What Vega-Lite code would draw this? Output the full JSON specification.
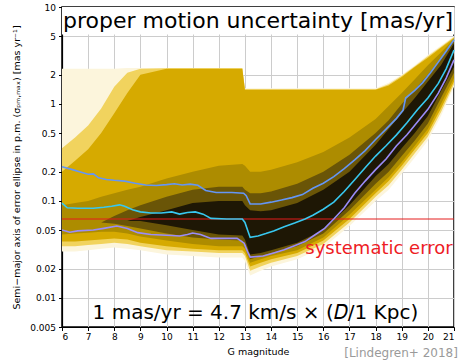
{
  "$schema": "https://vega.github.io/schema/vega-lite/v6.json",
  "width": 392,
  "height": 320,
  "autosize": {"type": "none"},
  "padding": {"left": 62, "top": 7, "right": 5, "bottom": 37},
  "config": {
    "font": "DejaVu Sans",
    "view": {"stroke": "#000000", "strokeWidth": 1.5},
    "axis": {
      "domainColor": "#000000",
      "domainWidth": 1.2,
      "tickColor": "#000000",
      "tickSize": 3.5,
      "labelColor": "#000000",
      "titleColor": "#000000",
      "labelFontSize": 9,
      "titleFontSize": 9.5,
      "titleFontWeight": "normal",
      "labelOverlap": false,
      "gridColor": "#cccccc",
      "gridWidth": 1,
      "gridOpacity": 1
    }
  },
  "datasets": {
    "density": [
      {"g": 6.0, "a0": 0.030, "b0": 2.3, "a1": 0.034, "b1": 0.35, "a2": 0.038, "b2": 0.20, "a3": 0.045, "b3": 0.090, "a4": 0.060, "b4": 0.060, "a5": 0.060, "b5": 0.060},
      {"g": 6.5, "a0": 0.030, "b0": 2.3, "a1": 0.034, "b1": 0.45, "a2": 0.038, "b2": 0.26, "a3": 0.046, "b3": 0.095, "a4": 0.060, "b4": 0.060, "a5": 0.060, "b5": 0.060},
      {"g": 7.0, "a0": 0.031, "b0": 2.3, "a1": 0.035, "b1": 0.60, "a2": 0.039, "b2": 0.34, "a3": 0.047, "b3": 0.10, "a4": 0.060, "b4": 0.060, "a5": 0.060, "b5": 0.060},
      {"g": 7.5, "a0": 0.032, "b0": 2.3, "a1": 0.036, "b1": 0.90, "a2": 0.040, "b2": 0.50, "a3": 0.048, "b3": 0.11, "a4": 0.060, "b4": 0.060, "a5": 0.060, "b5": 0.060},
      {"g": 8.0, "a0": 0.033, "b0": 2.3, "a1": 0.037, "b1": 1.50, "a2": 0.041, "b2": 0.80, "a3": 0.048, "b3": 0.12, "a4": 0.058, "b4": 0.070, "a5": 0.062, "b5": 0.062},
      {"g": 8.5, "a0": 0.032, "b0": 2.35, "a1": 0.036, "b1": 2.10, "a2": 0.040, "b2": 1.30, "a3": 0.046, "b3": 0.13, "a4": 0.055, "b4": 0.080, "a5": 0.062, "b5": 0.062},
      {"g": 9.0, "a0": 0.031, "b0": 2.35, "a1": 0.034, "b1": 2.30, "a2": 0.037, "b2": 2.00, "a3": 0.043, "b3": 0.14, "a4": 0.052, "b4": 0.090, "a5": 0.062, "b5": 0.068},
      {"g": 10.0, "a0": 0.028, "b0": 2.35, "a1": 0.031, "b1": 2.33, "a2": 0.034, "b2": 2.30, "a3": 0.039, "b3": 0.17, "a4": 0.046, "b4": 0.11, "a5": 0.056, "b5": 0.080},
      {"g": 11.0, "a0": 0.027, "b0": 2.35, "a1": 0.030, "b1": 2.33, "a2": 0.032, "b2": 2.30, "a3": 0.036, "b3": 0.20, "a4": 0.042, "b4": 0.13, "a5": 0.050, "b5": 0.095},
      {"g": 12.0, "a0": 0.026, "b0": 2.35, "a1": 0.029, "b1": 2.33, "a2": 0.031, "b2": 2.30, "a3": 0.034, "b3": 0.23, "a4": 0.040, "b4": 0.14, "a5": 0.045, "b5": 0.10},
      {"g": 12.9, "a0": 0.026, "b0": 2.35, "a1": 0.029, "b1": 2.33, "a2": 0.031, "b2": 2.30, "a3": 0.034, "b3": 0.24, "a4": 0.039, "b4": 0.14, "a5": 0.044, "b5": 0.10},
      {"g": 13.0, "a0": 0.024, "b0": 1.45, "a1": 0.027, "b1": 1.42, "a2": 0.029, "b2": 1.40, "a3": 0.032, "b3": 0.23, "a4": 0.035, "b4": 0.13, "a5": 0.040, "b5": 0.090},
      {"g": 13.2, "a0": 0.017, "b0": 1.45, "a1": 0.019, "b1": 1.42, "a2": 0.021, "b2": 1.40, "a3": 0.023, "b3": 0.20, "a4": 0.025, "b4": 0.12, "a5": 0.028, "b5": 0.080},
      {"g": 13.6, "a0": 0.019, "b0": 1.45, "a1": 0.021, "b1": 1.42, "a2": 0.023, "b2": 1.40, "a3": 0.025, "b3": 0.20, "a4": 0.027, "b4": 0.12, "a5": 0.029, "b5": 0.078},
      {"g": 14.0, "a0": 0.021, "b0": 1.45, "a1": 0.023, "b1": 1.42, "a2": 0.025, "b2": 1.40, "a3": 0.027, "b3": 0.21, "a4": 0.029, "b4": 0.125, "a5": 0.031, "b5": 0.080},
      {"g": 15.0, "a0": 0.025, "b0": 1.45, "a1": 0.027, "b1": 1.42, "a2": 0.029, "b2": 1.40, "a3": 0.031, "b3": 0.25, "a4": 0.034, "b4": 0.15, "a5": 0.037, "b5": 0.095},
      {"g": 16.0, "a0": 0.033, "b0": 1.45, "a1": 0.036, "b1": 1.42, "a2": 0.039, "b2": 1.40, "a3": 0.042, "b3": 0.32, "a4": 0.046, "b4": 0.20, "a5": 0.050, "b5": 0.13},
      {"g": 17.0, "a0": 0.055, "b0": 1.45, "a1": 0.060, "b1": 1.42, "a2": 0.065, "b2": 1.40, "a3": 0.072, "b3": 0.45, "a4": 0.080, "b4": 0.30, "a5": 0.090, "b5": 0.20},
      {"g": 18.0, "a0": 0.10, "b0": 1.45, "a1": 0.11, "b1": 1.42, "a2": 0.12, "b2": 1.40, "a3": 0.13, "b3": 0.70, "a4": 0.15, "b4": 0.50, "a5": 0.18, "b5": 0.38},
      {"g": 18.5, "a0": 0.13, "b0": 1.65, "a1": 0.145, "b1": 1.60, "a2": 0.16, "b2": 1.55, "a3": 0.175, "b3": 0.95, "a4": 0.20, "b4": 0.68, "a5": 0.24, "b5": 0.55},
      {"g": 19.0, "a0": 0.19, "b0": 2.0, "a1": 0.21, "b1": 1.95, "a2": 0.23, "b2": 1.90, "a3": 0.25, "b3": 1.30, "a4": 0.29, "b4": 1.00, "a5": 0.35, "b5": 0.80},
      {"g": 19.5, "a0": 0.28, "b0": 2.5, "a1": 0.31, "b1": 2.45, "a2": 0.34, "b2": 2.40, "a3": 0.37, "b3": 1.80, "a4": 0.42, "b4": 1.40, "a5": 0.50, "b5": 1.15},
      {"g": 20.0, "a0": 0.42, "b0": 3.2, "a1": 0.46, "b1": 3.1, "a2": 0.50, "b2": 3.0, "a3": 0.55, "b3": 2.5, "a4": 0.63, "b4": 2.0, "a5": 0.75, "b5": 1.7},
      {"g": 20.5, "a0": 0.75, "b0": 4.0, "a1": 0.82, "b1": 3.9, "a2": 0.90, "b2": 3.8, "a3": 1.0, "b3": 3.4, "a4": 1.15, "b4": 2.9, "a5": 1.35, "b5": 2.5},
      {"g": 21.0, "a0": 1.5, "b0": 5.0, "a1": 1.6, "b1": 4.9, "a2": 1.7, "b2": 4.8, "a3": 1.85, "b3": 4.7, "a4": 2.1, "b4": 4.5, "a5": 2.4, "b5": 4.2}
    ],
    "curves": [
      {"p": "hi", "g": 6.0, "s": 0.225}, {"p": "hi", "g": 6.4, "s": 0.21}, {"p": "hi", "g": 6.8, "s": 0.195},
      {"p": "hi", "g": 7.0, "s": 0.188}, {"p": "hi", "g": 7.2, "s": 0.19}, {"p": "hi", "g": 7.4, "s": 0.173},
      {"p": "hi", "g": 7.7, "s": 0.166}, {"p": "hi", "g": 8.0, "s": 0.163}, {"p": "hi", "g": 8.4, "s": 0.16},
      {"p": "hi", "g": 8.8, "s": 0.152}, {"p": "hi", "g": 9.2, "s": 0.146}, {"p": "hi", "g": 9.6, "s": 0.144},
      {"p": "hi", "g": 10.0, "s": 0.147}, {"p": "hi", "g": 10.3, "s": 0.15}, {"p": "hi", "g": 10.6, "s": 0.146},
      {"p": "hi", "g": 10.9, "s": 0.149}, {"p": "hi", "g": 11.2, "s": 0.145}, {"p": "hi", "g": 11.5, "s": 0.128},
      {"p": "hi", "g": 11.9, "s": 0.122}, {"p": "hi", "g": 12.5, "s": 0.122}, {"p": "hi", "g": 12.95, "s": 0.12},
      {"p": "hi", "g": 13.05, "s": 0.113}, {"p": "hi", "g": 13.2, "s": 0.093}, {"p": "hi", "g": 13.6, "s": 0.093},
      {"p": "hi", "g": 14.0, "s": 0.097}, {"p": "hi", "g": 14.4, "s": 0.102}, {"p": "hi", "g": 14.8, "s": 0.108},
      {"p": "hi", "g": 15.2, "s": 0.116}, {"p": "hi", "g": 15.6, "s": 0.135}, {"p": "hi", "g": 16.0, "s": 0.152},
      {"p": "hi", "g": 16.4, "s": 0.178}, {"p": "hi", "g": 16.8, "s": 0.215}, {"p": "hi", "g": 17.2, "s": 0.265},
      {"p": "hi", "g": 17.6, "s": 0.33}, {"p": "hi", "g": 18.0, "s": 0.43}, {"p": "hi", "g": 18.4, "s": 0.55},
      {"p": "hi", "g": 18.8, "s": 0.71}, {"p": "hi", "g": 19.05, "s": 0.86}, {"p": "hi", "g": 19.15, "s": 1.15},
      {"p": "hi", "g": 19.5, "s": 1.38}, {"p": "hi", "g": 19.8, "s": 1.66}, {"p": "hi", "g": 20.1, "s": 2.1},
      {"p": "hi", "g": 20.4, "s": 2.7}, {"p": "hi", "g": 20.7, "s": 3.5}, {"p": "hi", "g": 21.0, "s": 4.6},

      {"p": "med", "g": 6.0, "s": 0.095}, {"p": "med", "g": 6.2, "s": 0.085}, {"p": "med", "g": 6.6, "s": 0.084},
      {"p": "med", "g": 7.2, "s": 0.084}, {"p": "med", "g": 7.6, "s": 0.086}, {"p": "med", "g": 7.9, "s": 0.088},
      {"p": "med", "g": 8.2, "s": 0.091}, {"p": "med", "g": 8.4, "s": 0.088}, {"p": "med", "g": 8.7, "s": 0.081},
      {"p": "med", "g": 9.0, "s": 0.077}, {"p": "med", "g": 9.4, "s": 0.075}, {"p": "med", "g": 9.8, "s": 0.075},
      {"p": "med", "g": 10.2, "s": 0.077}, {"p": "med", "g": 10.5, "s": 0.073}, {"p": "med", "g": 10.8, "s": 0.076},
      {"p": "med", "g": 11.1, "s": 0.077}, {"p": "med", "g": 11.4, "s": 0.073}, {"p": "med", "g": 11.7, "s": 0.066},
      {"p": "med", "g": 12.3, "s": 0.065}, {"p": "med", "g": 12.9, "s": 0.065}, {"p": "med", "g": 13.0, "s": 0.06},
      {"p": "med", "g": 13.1, "s": 0.05}, {"p": "med", "g": 13.2, "s": 0.042}, {"p": "med", "g": 13.5, "s": 0.0435},
      {"p": "med", "g": 13.8, "s": 0.046}, {"p": "med", "g": 14.1, "s": 0.049}, {"p": "med", "g": 14.5, "s": 0.054},
      {"p": "med", "g": 14.9, "s": 0.059}, {"p": "med", "g": 15.3, "s": 0.065}, {"p": "med", "g": 15.6, "s": 0.071},
      {"p": "med", "g": 16.0, "s": 0.082}, {"p": "med", "g": 16.4, "s": 0.097}, {"p": "med", "g": 16.8, "s": 0.125},
      {"p": "med", "g": 17.2, "s": 0.165}, {"p": "med", "g": 17.6, "s": 0.22}, {"p": "med", "g": 18.0, "s": 0.29},
      {"p": "med", "g": 18.4, "s": 0.37}, {"p": "med", "g": 18.8, "s": 0.48}, {"p": "med", "g": 19.2, "s": 0.64},
      {"p": "med", "g": 19.6, "s": 0.87}, {"p": "med", "g": 20.0, "s": 1.15}, {"p": "med", "g": 20.4, "s": 1.63},
      {"p": "med", "g": 20.7, "s": 2.3}, {"p": "med", "g": 21.0, "s": 3.6},

      {"p": "lo", "g": 6.0, "s": 0.05}, {"p": "lo", "g": 6.3, "s": 0.0475}, {"p": "lo", "g": 6.6, "s": 0.049},
      {"p": "lo", "g": 7.2, "s": 0.05}, {"p": "lo", "g": 7.6, "s": 0.052}, {"p": "lo", "g": 8.1, "s": 0.055},
      {"p": "lo", "g": 8.5, "s": 0.052}, {"p": "lo", "g": 8.9, "s": 0.047}, {"p": "lo", "g": 9.4, "s": 0.045},
      {"p": "lo", "g": 10.2, "s": 0.044}, {"p": "lo", "g": 10.5, "s": 0.0435}, {"p": "lo", "g": 10.8, "s": 0.045},
      {"p": "lo", "g": 11.0, "s": 0.0466}, {"p": "lo", "g": 11.3, "s": 0.045}, {"p": "lo", "g": 11.7, "s": 0.041},
      {"p": "lo", "g": 12.7, "s": 0.041}, {"p": "lo", "g": 12.97, "s": 0.0366}, {"p": "lo", "g": 13.1, "s": 0.03},
      {"p": "lo", "g": 13.2, "s": 0.0263}, {"p": "lo", "g": 13.7, "s": 0.027}, {"p": "lo", "g": 14.1, "s": 0.029},
      {"p": "lo", "g": 14.5, "s": 0.0313}, {"p": "lo", "g": 14.9, "s": 0.0345}, {"p": "lo", "g": 15.3, "s": 0.038},
      {"p": "lo", "g": 15.7, "s": 0.045}, {"p": "lo", "g": 16.05, "s": 0.052}, {"p": "lo", "g": 16.4, "s": 0.065},
      {"p": "lo", "g": 16.8, "s": 0.085}, {"p": "lo", "g": 17.2, "s": 0.12}, {"p": "lo", "g": 17.6, "s": 0.16},
      {"p": "lo", "g": 18.0, "s": 0.21}, {"p": "lo", "g": 18.4, "s": 0.27}, {"p": "lo", "g": 18.8, "s": 0.37},
      {"p": "lo", "g": 19.2, "s": 0.48}, {"p": "lo", "g": 19.6, "s": 0.65}, {"p": "lo", "g": 20.0, "s": 0.88},
      {"p": "lo", "g": 20.4, "s": 1.29}, {"p": "lo", "g": 20.7, "s": 1.85}, {"p": "lo", "g": 21.0, "s": 2.85}
    ]
  },
  "encoding": {
    "x": {
      "field": "g", "type": "quantitative",
      "scale": {"domain": [6, 21], "nice": false, "zero": false},
      "axis": {
        "title": "G magnitude",
        "values": [6, 7, 8, 9, 10, 11, 12, 13, 14, 15, 16, 17, 18, 19, 20, 21],
        "grid": true,
        "labelOverlap": false,
        "labelPadding": 2,
        "titlePadding": 5
      }
    }
  },
  "layer": [
    {
      "data": {"name": "density"},
      "mark": {"type": "area", "color": "#fcf5dc"},
      "encoding": {
        "y": {
          "field": "a0", "type": "quantitative",
          "scale": {"type": "log", "domain": [0.005, 10], "nice": false},
          "axis": {
            "title": "Semi−major axis of error ellipse in p.m. (σₚₘ,ₘₐₓ) [mas yr⁻¹]",
            "values": [0.005, 0.01, 0.02, 0.05, 0.1, 0.2, 0.5, 1, 2, 5, 10],
            "format": "~g",
            "grid": true,
            "labelOverlap": false,
            "labelPadding": 3,
            "titlePadding": 8
          }
        },
        "y2": {"field": "b0"}
      }
    },
    {
      "data": {"name": "density"},
      "mark": {"type": "area", "color": "#f1d35e"},
      "encoding": {"y": {"field": "a1", "type": "quantitative"}, "y2": {"field": "b1"}}
    },
    {
      "data": {"name": "density"},
      "mark": {"type": "area", "color": "#d6aa00"},
      "encoding": {"y": {"field": "a2", "type": "quantitative"}, "y2": {"field": "b2"}}
    },
    {
      "data": {"name": "density"},
      "mark": {"type": "area", "color": "#ad8c00"},
      "encoding": {"y": {"field": "a3", "type": "quantitative"}, "y2": {"field": "b3"}}
    },
    {
      "data": {"name": "density"},
      "mark": {"type": "area", "color": "#6a5507"},
      "encoding": {"y": {"field": "a4", "type": "quantitative"}, "y2": {"field": "b4"}}
    },
    {
      "data": {"name": "density"},
      "mark": {"type": "area", "color": "#1e1705"},
      "encoding": {"y": {"field": "a5", "type": "quantitative"}, "y2": {"field": "b5"}}
    },
    {
      "data": {"values": [{"g": 6}, {"g": 21}]},
      "mark": {"type": "line", "color": "#e41c1c", "strokeWidth": 1},
      "encoding": {"y": {"datum": 0.065, "type": "quantitative"}}
    },
    {
      "data": {"name": "curves"},
      "mark": {"type": "line", "strokeWidth": 1.6},
      "encoding": {
        "y": {"field": "s", "type": "quantitative"},
        "color": {
          "field": "p", "type": "nominal",
          "scale": {"domain": ["hi", "med", "lo"], "range": ["#6596f5", "#38c8f0", "#9a8cf8"]},
          "legend": null
        }
      }
    },
    {
      "data": {"values": [{"g": 6}]},
      "mark": {"type": "rect", "color": "#ffffff"},
      "encoding": {
        "x2": {"datum": 21},
        "y": {"datum": 5.2, "type": "quantitative"},
        "y2": {"datum": 10}
      }
    },
    {
      "data": {"values": [{"g": 13.5}]},
      "mark": {"type": "text", "text": "proper motion uncertainty [mas/yr]", "fontSize": 22, "align": "center", "baseline": "alphabetic", "color": "#000000"},
      "encoding": {"y": {"datum": 6.07, "type": "quantitative"}}
    },
    {
      "data": {"values": [{"g": 20.95}]},
      "mark": {"type": "text", "text": "systematic error", "fontSize": 18, "align": "right", "baseline": "alphabetic", "color": "#ee1c25"},
      "encoding": {"y": {"datum": 0.0284, "type": "quantitative"}}
    },
    {
      "data": {"values": [{"g": 13.4}]},
      "mark": {"type": "text", "text": "1 mas/yr = 4.7 km/s × (𝐷/1 Kpc)", "fontSize": 20, "align": "center", "baseline": "alphabetic", "color": "#000000"},
      "encoding": {"y": {"datum": 0.00608, "type": "quantitative"}}
    },
    {
      "data": {"values": [{"g": 21.15}]},
      "mark": {"type": "text", "text": "[Lindegren+ 2018]", "fontSize": 12, "align": "right", "baseline": "middle", "color": "#9a9a9a"},
      "encoding": {"y": {"datum": 0.00271, "type": "quantitative"}}
    }
  ]
}
